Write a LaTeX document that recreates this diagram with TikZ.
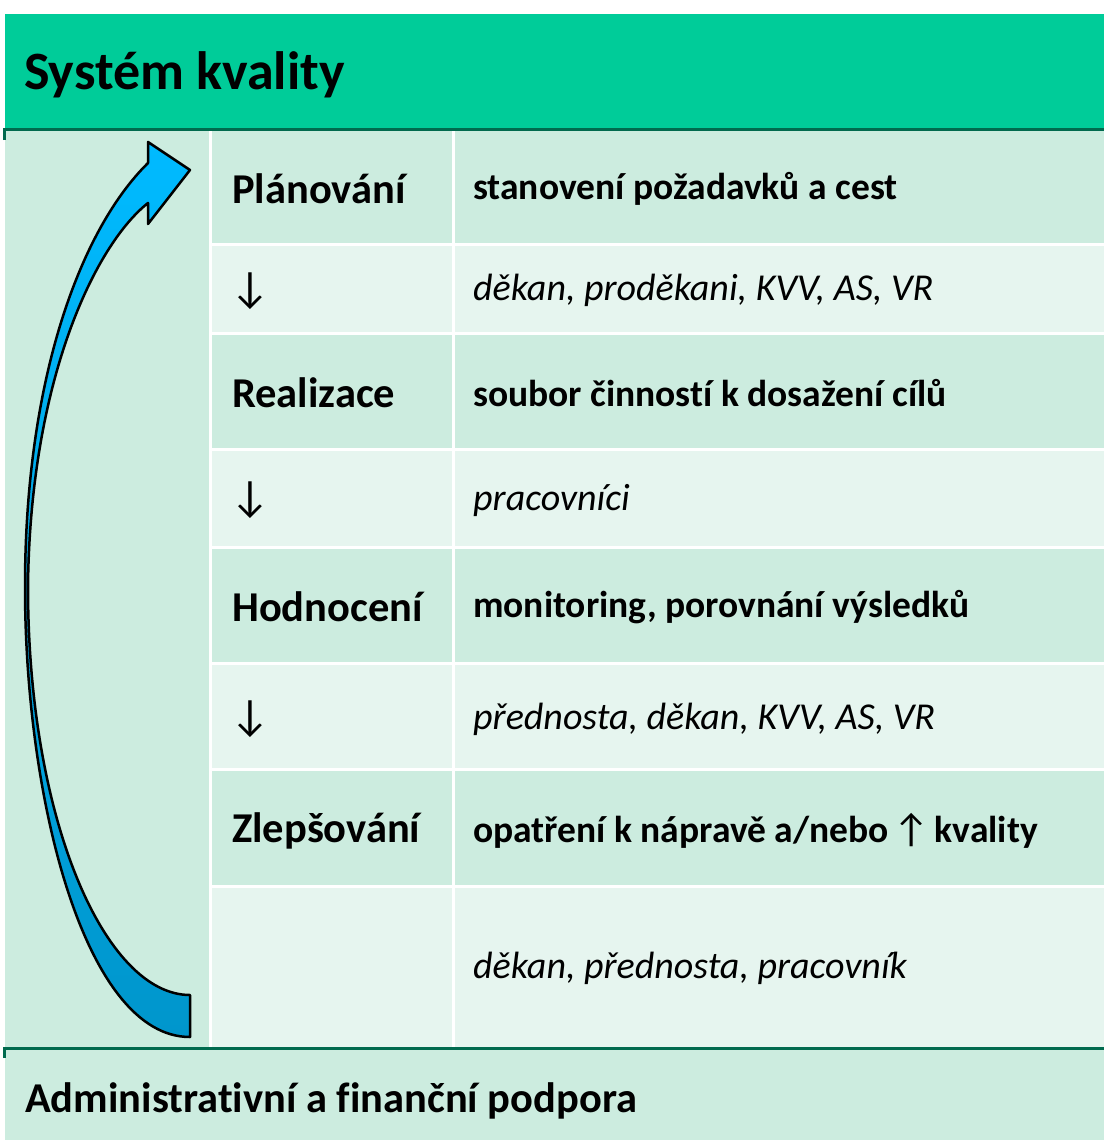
\documentclass[tikz,border=0pt]{standalone}
\usepackage{fontspec}
\setmainfont{Carlito}[Ligatures={NoCommon}]
\usepackage{tikz}
\usetikzlibrary{positioning}
\definecolor{hdrgreen}{RGB}{0,204,153}
\definecolor{rulegreen}{RGB}{0,106,78}
\definecolor{celldark}{RGB}{204,236,223}
\definecolor{celllight}{RGB}{230,245,239}
\definecolor{arrowtop}{RGB}{0,186,255}
\definecolor{arrowbot}{RGB}{0,150,204}
\newcommand{\dnarrow}{{\mdseries\fontsize{44}{48}\selectfont ↓}}
\newcommand{\uparrowsym}{{\mdseries\fontsize{40}{46}\selectfont ↑}}

\begin{document}
\begin{tikzpicture}[x=1pt, y=-1pt,
        head/.style={anchor=west, inner sep=0pt, font=\fontsize{54}{60}\selectfont\bfseries},
        stage/.style={anchor=west, inner sep=0pt, font=\fontsize{42.5}{48}\selectfont\bfseries},
        what/.style={anchor=west, inner sep=0pt, font=\fontsize{37.5}{44}\selectfont\bfseries},
        duty/.style={anchor=west, inner sep=0pt, font=\fontsize{38}{44}\selectfont\itshape},
        rule/.style={draw=rulegreen, line width=3pt},
        cycle/.style={draw=black, line width=2.5pt, line join=round, top color=arrowtop, bottom color=arrowbot}
    ]
        \useasboundingbox (0,0) rectangle (1104,1140);

        % bands and table body
        \fill[hdrgreen] (5,14) rectangle (1104,129);
        \fill[celldark] (5,130) rectangle (1104,1047);
        \fill[white] (209,130) rectangle (1104,1047);
        \fill[celldark] (5,1050) rectangle (1104,1140);
        \foreach \top/\bot/\col in {130/243/celldark, 246/332/celllight, 335/448/celldark,
                451/546/celllight, 549/662/celldark, 665/768/celllight,
                771/885/celldark, 888/1047/celllight} {
            \fill[\col] (212,\top) rectangle (452,\bot);
            \fill[\col] (455,\top) rectangle (1104,\bot);
        }
        \draw[rule] (4,140) -- (4,129.5) -- (1104,129.5);
        \draw[rule] (4,1058) -- (4,1048.5) -- (1104,1048.5);

        % cycle arrow
        \path[cycle] (190,1037) .. controls (85,1037) and (25,800) .. (25,587)
            .. controls (25,380) and (80,230) .. (148,163)
            -- (148,142) -- (190,170) -- (148,224) -- (148,203)
            .. controls (95,245) and (30,380) .. (28,587)
            .. controls (28,820) and (105,995) .. (190,995) -- cycle;

        % texts
        \node[head] (title) at (24,75) {Systém kvality};
        \node[stage] (plan) at (232,189) {Plánování};
        \node[what] (planwhat) at (473,189) {stanovení požadavků a cest};
        \node[stage] (arr1) at (230,291) {\dnarrow};
        \node[duty] (planwho) at (473,290) {děkan, proděkani, KVV, AS, VR};
        \node[stage] (real) at (232,393) {Realizace};
        \node[what] (realwhat) at (473,393) {soubor činností k dosažení cílů};
        \node[stage] (arr2) at (230,500) {\dnarrow};
        \node[duty] (realwho) at (473,500) {pracovníci};
        \node[stage] (eval) at (232,607) {Hodnocení};
        \node[what] (evalwhat) at (473,607) {monitoring, porovnání výsledků};
        \node[stage] (arr3) at (230,719) {\dnarrow};
        \node[duty] (evalwho) at (473,719) {přednosta, děkan, KVV, AS, VR};
        \node[stage] (impr) at (232,831) {Zlepšování};
        \node[what] (imprwhat) at (473,831) {opatření k nápravě a/nebo\hspace{5pt}\uparrowsym\hspace{5pt}kvality};
        \node[duty] (imprwho) at (473,968) {děkan, přednosta, pracovník};
        \node[stage] (support) at (25,1101) {Administrativní a finanční podpora};
    \end{tikzpicture}
\end{document}
